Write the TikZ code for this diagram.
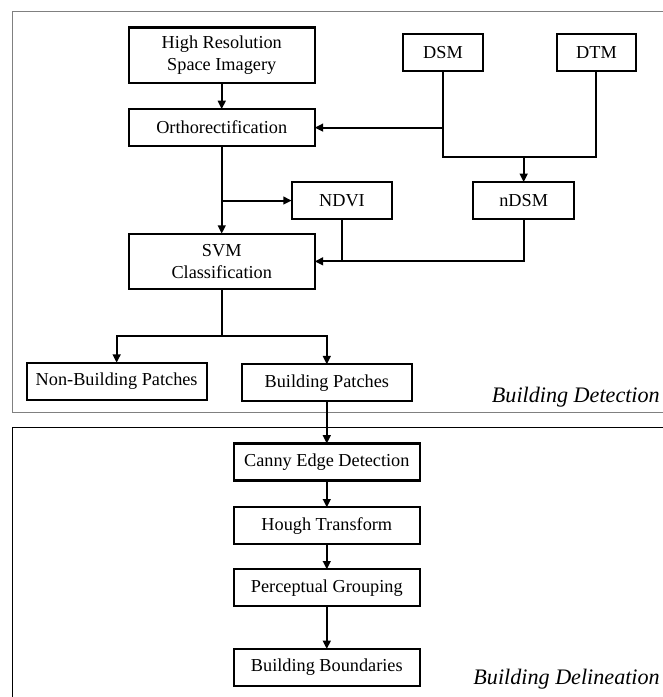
\documentclass[tikz,border=0pt]{standalone}
\usepackage{fontspec}
\setmainfont{Liberation Serif}
\usepackage{tikz}
\usetikzlibrary{arrows.meta,positioning}

\begin{document}
\begin{tikzpicture}[
  x=1pt, y=1pt,
  bigbox/.style={draw, line width=1.6pt, outer sep=0pt, inner sep=2pt, minimum width=139.5pt, minimum height=27.7pt, align=center, font=\fontsize{13.7}{16.3}\selectfont},
  twoline/.style={bigbox, minimum height=41.5pt},
  srcbox/.style={bigbox, minimum width=59.8pt},
  idxbox/.style={bigbox, minimum width=75.5pt},
  conn/.style={line width=1.5pt},
  arr/.style={-{Triangle[length=6.3pt,width=5.8pt]}, line width=1.5pt},
  tag/.style={font=\fontsize{16.6}{20}\selectfont\itshape, inner sep=0pt, anchor=base east}
]
\useasboundingbox (0,0) rectangle (496.5,-522.75);

% stage frames
\draw[gray, line width=0.7pt] (505,-8.25) -| (9.5,-309.2) -- (505,-309.2);
\draw[line width=0.7pt] (505,-320.5) -| (9.5,-530);

\node[twoline] (hr) at (166.3,-41.4) {High Resolution\\Space Imagery};
\node[bigbox, below=19.7pt of hr] (ortho) {Orthorectification};
\node[twoline, below=65.7pt of ortho] (svm) {SVM\\Classification};
\node[srcbox, right=66.3pt of hr, yshift=1.9pt] (dsm) {DSM};
\node[srcbox, right=55.3pt of dsm] (dtm) {DTM};
\node[idxbox, below=27pt of ortho, xshift=90.2pt] (ndvi) {NDVI};
\node[idxbox, right=60.75pt of ndvi] (ndsm) {nDSM};
\coordinate[below=64.3pt of dsm] (j);
\coordinate[below=35.3pt of svm] (split);
\node[bigbox, minimum width=135pt, below=55.3pt of svm, xshift=-78.8pt] (nonb) {Non-Building Patches};
\node[bigbox, minimum width=127.3pt, below=56.5pt of svm, xshift=78.8pt] (bp) {Building Patches};
\node[bigbox, below=31.7pt of bp] (canny) {Canny Edge Detection};
\node[bigbox, below=20.2pt of canny] (hough) {Hough Transform};
\node[bigbox, below=18.8pt of hough] (group) {Perceptual Grouping};
\node[bigbox, below=32pt of group] (bound) {Building Boundaries};

\node[tag] (detlbl) at (495,-302) {Building Detection};
\node[tag] (dellbl) at (495,-513) {Building Delineation};

\draw[arr] (hr) -- (ortho);
\draw[arr] (ortho) -- (svm);
\draw[arr] (ortho |- ndvi) -- (ndvi);
\draw[conn] (dsm) -- (j) -| (dtm);
\draw[arr] (dsm |- ortho) -- (ortho);
\draw[arr] (ndsm |- j) -- (ndsm);
\draw[conn] (ndvi) -- (ndvi |- svm);
\draw[arr] (ndsm) |- (svm);
\draw[conn] (svm) -- (split);
\draw[arr] (split) -| (nonb);
\draw[arr] (split) -| (bp);
\draw[arr] (bp) -- (canny);
\draw[arr] (canny) -- (hough);
\draw[arr] (hough) -- (group);
\draw[arr] (group) -- (bound);
\end{tikzpicture}
\end{document}
